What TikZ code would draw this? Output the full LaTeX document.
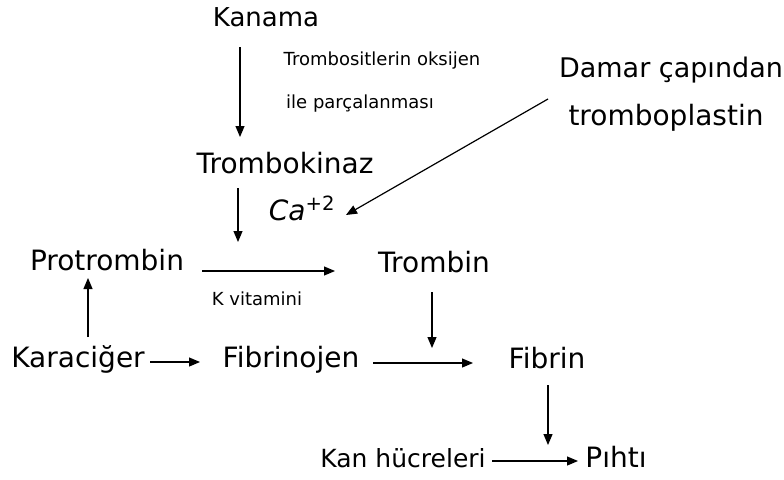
\documentclass[tikz,border=0pt]{standalone}
\usepackage{fontspec}
\setmainfont{DejaVu Sans}
\usetikzlibrary{arrows.meta}
\begin{document}
\begin{tikzpicture}[x=1pt,y=-1pt,
  big/.style={font=\fontsize{28}{32}\selectfont, inner sep=0pt, anchor=base},
  small/.style={font=\fontsize{18}{21}\selectfont, inner sep=0pt, anchor=base},
  arr/.style={line width=1.2pt, -{Triangle[length=11pt,width=9pt]}}]
\useasboundingbox (0,0) rectangle (784,479);
\node[big, font=\fontsize{26}{30}\selectfont] (kanama) at (266,27) {Kanama};
\node[small] (note1) at (382,65) {Trombositlerin oksijen};
\node[small] (note2) at (360,108) {ile parçalanması};
\node[big, font=\fontsize{27}{30}\selectfont] (damar) at (671,77) {Damar çapından};
\node[big] (trombopl) at (666,125) {tromboplastin};
\node[big] (trombokinaz) at (285,173) {Trombokinaz};
\node[big] (ca) at (302,220) {\itshape Ca\textsuperscript{\upshape +2}};
\node[big] (protrombin) at (107,270) {Protrombin};
\node[big] (trombin) at (434,272) {Trombin};
\node[small] (kvit) at (257,305) {K vitamini};
\node[big] (karaciger) at (78,367) {Karaciğer};
\node[big] (fibrinojen) at (291,367) {Fibrinojen};
\node[big] (fibrin) at (547,368) {Fibrin};
\node[big, font=\fontsize{25}{29}\selectfont] (kan) at (403,467) {Kan hücreleri};
\node[big] (pihti) at (616,467) {Pıhtı};
% arrow end points
\coordinate (a1s) at (240,47);
\coordinate (a1e) at (240,137);
\coordinate (a2s) at (238,188);
\coordinate (a2e) at (238,242);
\coordinate (a3s) at (548,99);
\coordinate (a3e) at (346,215);
\coordinate (a4s) at (202,271);
\coordinate (a4e) at (335,271);
\coordinate (a5s) at (88,337);
\coordinate (a5e) at (88,278);
\coordinate (a6s) at (432,292);
\coordinate (a6e) at (432,348);
\coordinate (a7s) at (150,362);
\coordinate (a7e) at (200,362);
\coordinate (a8s) at (373,363);
\coordinate (a8e) at (473,363);
\coordinate (a9s) at (548,385);
\coordinate (a9e) at (548,445);
\coordinate (a10s) at (492,461);
\coordinate (a10e) at (578,461);
\draw[arr] (a1s) -- (a1e);
\draw[arr] (a2s) -- (a2e);
\draw[arr] (a3s) -- (a3e);
\draw[arr] (a4s) -- (a4e);
\draw[arr] (a5s) -- (a5e);
\draw[arr] (a6s) -- (a6e);
\draw[arr] (a7s) -- (a7e);
\draw[arr] (a8s) -- (a8e);
\draw[arr] (a9s) -- (a9e);
\draw[arr] (a10s) -- (a10e);
\end{tikzpicture}
\end{document}
